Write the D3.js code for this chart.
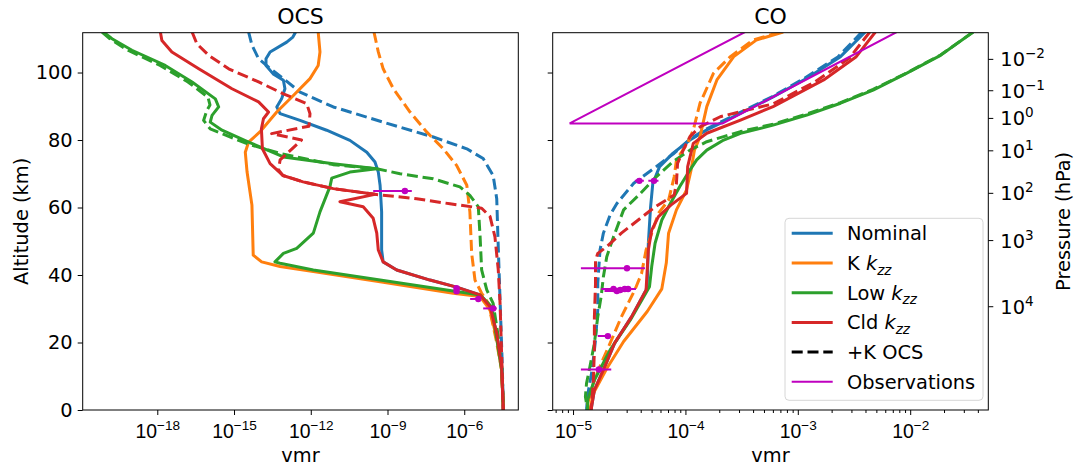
<!DOCTYPE html>
<html><head><meta charset="utf-8">
<script src="https://cdn.jsdelivr.net/npm/d3@7"></script>
<style>body{margin:0;background:#fff;} svg{display:block;font-family:"DejaVu Sans",sans-serif;}</style>
</head><body><svg id="c" width="1079" height="468"></svg>
<script>
// ---------- DATA: each profile is [altitude km, log10(vmr)] ----------
const ocsNominal = [[112,-12.59],[110.5,-12.70],[109.0,-12.94],[106.1,-13.59],[104.1,-13.75],[102.1,-13.75],[99.6,-13.47],[97.7,-13.07],[95.2,-13.01],[92.2,-13.14],[89.8,-13.33],[87.8,-13.20],[85.8,-12.42],[82.9,-11.38],[79.9,-10.47],[76.4,-9.81],[73.5,-9.49],[70.5,-9.36],[66.6,-9.29],[58.7,-9.23],[47.4,-9.23],[43.9,-9.17],[41.5,-8.64],[38.5,-7.34],[36.4,-6.30],[34.1,-5.38],[30.6,-4.99],[22.7,-4.73],[12.8,-4.54],[0,-4.47]];
const ocsNominalK = [[112,-14.43],[108.1,-14.30],[104.1,-14.04],[101.6,-13.65],[98.2,-13.07],[94.2,-12.42],[89.8,-11.12],[85.3,-9.17],[80.9,-7.21],[77.4,-5.90],[74.5,-5.26],[69.5,-4.87],[62.6,-4.73],[50.4,-4.68],[32.6,-4.60],[14.8,-4.52],[0,-4.47]];
const ocsK = [[112,-11.71],[106.1,-11.64],[102.1,-11.71],[98.2,-12.03],[93.2,-12.68],[88.3,-13.33],[82.4,-13.99],[79.4,-14.43],[76.4,-14.56],[70.5,-14.49],[60.7,-14.30],[45.9,-14.25],[43.9,-13.92],[42.5,-13.20],[41.0,-11.90],[38.0,-9.29],[34.6,-6.43],[33.6,-5.38],[29.6,-4.99],[20.7,-4.72],[11.9,-4.54],[0,-4.47]];
const ocsKK = [[112,-9.53],[106.1,-9.36],[101.1,-9.17],[95.2,-8.77],[88.3,-8.12],[82.4,-7.47],[77.4,-6.82],[72.5,-6.30],[66.6,-5.90],[58.7,-5.78],[46.4,-5.71],[38.5,-5.58],[34.6,-5.32],[31.6,-5.06],[20.7,-4.75],[11.9,-4.54],[0,-4.47]];
const ocsLow = [[112,-20.10],[110.0,-19.77],[106.6,-18.99],[102.1,-17.69],[97.2,-16.64],[92.2,-15.73],[89.8,-15.60],[87.3,-15.86],[85.3,-15.93],[82.9,-15.47],[79.4,-14.43],[75.0,-13.07],[73.0,-11.12],[71.5,-9.42],[70.5,-10.47],[68.7,-11.18],[66.2,-11.25],[58.7,-11.64],[52.4,-11.90],[47.9,-12.55],[46.4,-13.07],[43.9,-13.40],[43.5,-13.20],[41.5,-11.90],[38.5,-9.29],[35.1,-6.30],[34.1,-5.38],[30.6,-4.93],[20.7,-4.72],[11.9,-4.54],[0,-4.47]];
const ocsLowK = [[112,-20.16],[110.0,-19.85],[106.6,-19.15],[102.1,-17.89],[97.2,-16.80],[92.7,-16.02],[90.4,-15.94],[88.8,-16.06],[85.8,-16.19],[83.3,-15.93],[78.9,-14.49],[75.9,-13.13],[72.7,-11.13],[71.5,-9.42],[70.0,-8.51],[68.5,-7.21],[66.1,-6.17],[63.6,-5.78],[60.2,-5.45],[51.3,-5.38],[41.5,-5.32],[35.6,-5.12],[31.6,-4.87],[21.7,-4.67],[11.9,-4.52],[0,-4.47]];
const ocsCld = [[112,-17.88],[109.5,-17.82],[106.1,-17.43],[101.1,-16.38],[95.2,-15.08],[91.3,-14.04],[88.3,-13.65],[86.3,-13.85],[83.3,-13.93],[77.4,-13.89],[73.0,-13.59],[69.5,-13.09],[67.6,-12.30],[65.6,-11.12],[63.9,-9.49],[61.7,-10.86],[60.2,-9.95],[56.8,-9.56],[52.4,-9.42],[47.4,-9.36],[43.9,-9.17],[41.5,-8.64],[38.5,-7.34],[36.4,-6.30],[34.1,-5.38],[30.6,-4.99],[22.7,-4.73],[12.8,-4.54],[0,-4.47]];
const ocsCldK = [[112,-16.64],[108.5,-16.45],[105.1,-15.99],[101.1,-15.21],[97.2,-14.04],[93.7,-13.07],[90.8,-12.16],[87.8,-12.03],[84.1,-12.07],[81.9,-13.53],[80.0,-12.36],[74.1,-13.20],[71.1,-13.26],[69.5,-13.09],[67.6,-12.30],[65.6,-11.12],[63.9,-9.49],[62.6,-7.86],[61.1,-6.56],[59.8,-5.32],[57.3,-4.99],[51.3,-4.80],[41.5,-4.67],[31.6,-4.60],[21.7,-4.56],[11.9,-4.52],[0,-4.48]];

const coNominal = [[112,-2.40],[104.7,-2.62],[98.3,-2.92],[92.8,-3.22],[87.9,-3.51],[83.0,-3.81],[80.0,-3.96],[76.1,-4.11],[72.1,-4.23],[67.2,-4.29],[60.2,-4.31],[49.4,-4.33],[37.0,-4.34],[35.6,-4.35],[27.6,-4.48],[19.8,-4.63],[11.9,-4.73],[5.9,-4.81],[0,-4.84]];
const coNominalK = [[112,-2.43],[104.7,-2.64],[98.3,-2.94],[92.8,-3.23],[87.9,-3.53],[83.0,-3.83],[80.0,-3.97],[76.1,-4.10],[72.1,-4.26],[67.2,-4.46],[61.2,-4.61],[57.8,-4.67],[52.4,-4.73],[47.4,-4.76],[37.5,-4.78],[29.6,-4.78],[20.7,-4.80],[11.9,-4.83],[4.4,-4.87],[0,-4.88]];
const coK = [[112,-3.13],[109.6,-3.37],[104.7,-3.57],[97.8,-3.72],[89.9,-3.81],[81.0,-3.87],[77.0,-3.92],[71.1,-3.95],[65.2,-3.99],[59.3,-4.08],[52.4,-4.15],[43.6,-4.17],[35.9,-4.21],[29.2,-4.34],[20.3,-4.55],[12.3,-4.70],[4.9,-4.82],[0,-4.85]];
const coKK = [[112,-3.16],[109.6,-3.40],[104.7,-3.60],[99.8,-3.75],[90.9,-3.87],[83.0,-3.93],[79.1,-3.98],[74.1,-4.08],[69.1,-4.10],[62.2,-4.15],[58.3,-4.24],[52.4,-4.30],[47.4,-4.35],[40.5,-4.39],[35.6,-4.45],[27.6,-4.57],[19.8,-4.67],[13.8,-4.75],[7.9,-4.82],[2.0,-4.87],[0,-4.88]];
const coLow = [[112,-1.44],[105.1,-1.73],[99.8,-2.03],[94.8,-2.33],[90.9,-2.62],[87.4,-2.92],[84.4,-3.22],[82.0,-3.51],[80.0,-3.66],[77.0,-3.81],[74.1,-3.90],[71.1,-3.96],[66.2,-4.05],[60.2,-4.15],[56.3,-4.21],[49.4,-4.27],[42.5,-4.30],[36.5,-4.32],[26.7,-4.49],[17.8,-4.67],[8.9,-4.81],[3.0,-4.87],[0,-4.87]];
const coLowK = [[112,-1.44],[105.2,-1.73],[99.9,-2.03],[95.0,-2.33],[91.1,-2.62],[87.7,-2.92],[84.7,-3.22],[82.5,-3.51],[81.0,-3.66],[79.5,-3.81],[77.0,-3.96],[73.6,-4.11],[69.1,-4.26],[64.2,-4.40],[59.3,-4.55],[51.3,-4.64],[45.4,-4.70],[39.5,-4.73],[33.6,-4.75],[27.6,-4.78],[19.8,-4.81],[12.8,-4.85],[7.9,-4.88],[3.9,-4.89],[0,-4.87]];
const coCld = [[112,-2.31],[104.7,-2.48],[97.8,-2.77],[89.9,-3.22],[85.9,-3.51],[82.0,-3.81],[79.0,-3.93],[72.1,-3.98],[64.2,-3.99],[60.7,-4.13],[57.3,-4.24],[53.3,-4.30],[47.4,-4.33],[35.6,-4.35],[27.6,-4.48],[19.8,-4.63],[11.9,-4.73],[5.9,-4.81],[0,-4.84]];
const coCldK = [[112,-2.36],[104.3,-2.54],[97.2,-2.85],[90.7,-3.22],[88.4,-3.51],[86.9,-3.69],[83.9,-3.87],[81.0,-3.96],[77.0,-4.02],[73.1,-4.07],[67.2,-4.08],[63.7,-4.10],[60.2,-4.27],[56.3,-4.42],[52.4,-4.57],[48.4,-4.70],[46.4,-4.78],[44.4,-4.80],[37.5,-4.80],[27.6,-4.81],[17.8,-4.81],[7.9,-4.82],[0,-4.84]];

// observations: altitude, log10(vmr), error bar low/high (log10)
const obsOCSAlt = [64.9, 36.1, 35.2, 32.9, 30.1];
const obsOCSLog = [-8.32, -6.30, -6.30, -5.45, -4.87];
const obsOCSLo  = [-9.56, -6.30, -6.30, -5.77, -5.26];
const obsOCSHi  = [-8.05, -6.30, -6.30, -5.38, -4.73];
const obsCOAlt = [67.9, 67.9, 42.0, 35.85, 35.26, 35.56, 35.85, 35.85, 21.9, 12.0];
const obsCOLog = [-4.41, -4.28, -4.52, -4.64, -4.61, -4.58, -4.54, -4.51, -4.69, -4.77];
const obsCOLo  = [-4.45, -4.33, -4.93, -4.75, -4.72, -4.66, -4.60, -4.55, -4.78, -4.93];
const obsCOHi  = [-4.37, -4.24, -4.36, -4.44, -4.50, -4.52, -4.49, -4.47, -4.67, -4.66];
// upper-atmosphere CO observation envelope
const obsCORangeAlt = [112, 84.9, 84.9, 112];
const obsCORangeLog = [-3.47, -5.03, -3.67, -2.12];

// axis ticks
const altTicks = [0, 20, 40, 60, 80, 100];
const ocsTickExp = [-18, -15, -12, -9, -6];
const coTickExp = [-5, -4, -3, -2];
const pressureTickExp = [-2, -1, 0, 1, 2, 3, 4];
const pressureTickAlt = [103.9, 94.6, 86.4, 76.8, 64.2, 50.2, 30.6]; // altitude of each pressure level (km)

const seriesColors = ["#1f77b4", "#ff7f0e", "#2ca02c", "#d62728"];
const obsColor = "#bf00bf";

// ---------- DRAWING ----------
const svg = d3.select("#c");
const FS = 19.4;
const yTop = 32.7, yBot = 410;
const y = d3.scaleLinear().domain([0, 111.8]).range([yBot, yTop]);
const xOCS = d3.scaleLog().domain([Math.pow(10, -20.916), Math.pow(10, -3.887)]).range([82.7, 518.3]);
const xCO = d3.scaleLog().domain([Math.pow(10, -5.181), Math.pow(10, -1.305)]).range([552.7, 988.3]);

const defs = svg.append("defs");
function clip(id, x) {
  defs.append("clipPath").attr("id", id).append("rect")
    .attr("x", x.range()[0]).attr("y", yTop).attr("width", x.range()[1] - x.range()[0]).attr("height", yBot - yTop);
}
clip("cl1", xOCS); clip("cl2", xCO);

function supLabel(sel, exp) {
  sel.text(null);
  sel.append("tspan").text("10");
  sel.append("tspan").attr("font-size", FS * 0.7).attr("dy", -8).text((exp < 0 ? "\u2212" : "") + Math.abs(exp));
}

function drawPanel(x, clipId, sets, obs, title) {
  const g = svg.append("g");
  const plot = g.append("g").attr("clip-path", `url(#${clipId})`);
  const line = d3.line().x(d => x(Math.pow(10, d[1]))).y(d => y(d[0]));
  sets.forEach((s) => {
    plot.append("path").datum(s.data).attr("d", line).attr("fill", "none")
      .attr("stroke", seriesColors[s.c]).attr("stroke-width", 3)
      .attr("stroke-linejoin", "round")
      .attr("stroke-dasharray", s.dash ? "11,4.8" : null);
  });
  if (obs.range) {
    const pts = obs.range.alt.map((a, i) => [a, obs.range.log[i]]);
    plot.append("path").datum(pts).attr("d", line).attr("fill", "none")
      .attr("stroke", obsColor).attr("stroke-width", 2);
  }
  obs.alt.forEach((a, i) => {
    plot.append("line").attr("x1", x(Math.pow(10, obs.lo[i]))).attr("x2", x(Math.pow(10, obs.hi[i])))
      .attr("y1", y(a)).attr("y2", y(a)).attr("stroke", obsColor).attr("stroke-width", 2);
    plot.append("circle").attr("cx", x(Math.pow(10, obs.log[i]))).attr("cy", y(a)).attr("r", 3.2).attr("fill", obsColor);
  });
  const [x0, x1] = x.range();
  g.append("rect").attr("x", x0).attr("y", yTop).attr("width", x1 - x0).attr("height", yBot - yTop)
    .attr("fill", "none").attr("stroke", "#000").attr("stroke-width", 1);
  const ya = d3.axisLeft(y).tickValues(altTicks).tickSize(5).tickPadding(5);
  const yg = g.append("g").attr("transform", `translate(${x0},0)`).call(ya);
  yg.select(".domain").remove();
  yg.selectAll("text").attr("font-size", FS).attr("font-family", "DejaVu Sans").attr("fill", "#000");
  if (x !== xOCS) yg.selectAll("text").remove();
  const exps = x === xOCS ? ocsTickExp : coTickExp;
  const xa = d3.axisBottom(x).tickValues(exps.map(e => Math.pow(10, e))).tickSize(5).tickFormat(() => "");
  const xg = g.append("g").attr("transform", `translate(0,${yBot})`).call(xa);
  xg.select(".domain").remove();
  xg.selectAll(".tick text").remove();
  xg.selectAll(".tick").each(function (d) {
    const t = d3.select(this).append("text").attr("y", 27.5).attr("text-anchor", "middle")
      .attr("font-size", FS).attr("fill", "#000").attr("x", 0);
    supLabel(t, Math.round(Math.log10(d)));
  });
  if (x === xCO) {
    const minors = [];
    for (let e = -6; e <= -2; e++) for (let m = 2; m <= 9; m++) {
      const v = m * Math.pow(10, e);
      if (v >= x.domain()[0] && v <= x.domain()[1]) minors.push(v);
    }
    const mg = g.append("g").attr("transform", `translate(0,${yBot})`)
      .call(d3.axisBottom(x).tickValues(minors).tickSize(3).tickFormat(() => ""));
    mg.select(".domain").remove();
  }
  g.selectAll(".tick line").attr("stroke", "#000");
  g.append("text").attr("x", (x0 + x1) / 2).attr("y", 24).attr("text-anchor", "middle")
    .attr("font-size", 22).text(title);
  g.append("text").attr("x", (x0 + x1) / 2).attr("y", 462).attr("text-anchor", "middle")
    .attr("font-size", FS).text("vmr");
  return g;
}

drawPanel(xOCS, "cl1", [
  {data: ocsNominal, c: 0}, {data: ocsNominalK, c: 0, dash: true},
  {data: ocsK, c: 1}, {data: ocsKK, c: 1, dash: true},
  {data: ocsLow, c: 2}, {data: ocsLowK, c: 2, dash: true},
  {data: ocsCld, c: 3}, {data: ocsCldK, c: 3, dash: true}
], {alt: obsOCSAlt, log: obsOCSLog, lo: obsOCSLo, hi: obsOCSHi}, "OCS");

drawPanel(xCO, "cl2", [
  {data: coNominal, c: 0}, {data: coNominalK, c: 0, dash: true},
  {data: coK, c: 1}, {data: coKK, c: 1, dash: true},
  {data: coLow, c: 2}, {data: coLowK, c: 2, dash: true},
  {data: coCld, c: 3}, {data: coCldK, c: 3, dash: true}
], {alt: obsCOAlt, log: obsCOLog, lo: obsCOLo, hi: obsCOHi, range: {alt: obsCORangeAlt, log: obsCORangeLog}}, "CO");

const xr = xCO.range()[1];
pressureTickExp.forEach((e, i) => {
  const yy = y(pressureTickAlt[i]);
  svg.append("line").attr("x1", xr).attr("x2", xr + 5).attr("y1", yy).attr("y2", yy).attr("stroke", "#000");
  const t = svg.append("text").attr("x", xr + 12).attr("y", yy + 7).attr("font-size", FS).attr("fill", "#000");
  supLabel(t, e);
});

svg.append("text").attr("transform", `translate(28,${(yTop + yBot) / 2}) rotate(-90)`)
  .attr("text-anchor", "middle").attr("font-size", FS).text("Altitude (km)");
svg.append("text").attr("transform", `translate(1070,${(yTop + yBot) / 2}) rotate(-90)`)
  .attr("text-anchor", "middle").attr("font-size", FS).text("Pressure (hPa)");

const lg = svg.append("g");
lg.append("rect").attr("x", 785).attr("y", 218.3).attr("width", 198).attr("height", 182).attr("rx", 4)
  .attr("fill", "#fff").attr("fill-opacity", 0.8).attr("stroke", "#d6d6d6").attr("stroke-width", 1);
const legendItems = [
  {label: ["Nominal"], color: seriesColors[0], w: 3},
  {label: ["K ", "k"], color: seriesColors[1], w: 3},
  {label: ["Low ", "k"], color: seriesColors[2], w: 3},
  {label: ["Cld ", "k"], color: seriesColors[3], w: 3},
  {label: ["+K OCS"], color: "#000", w: 3, dash: true},
  {label: ["Observations"], color: obsColor, w: 2}
];
legendItems.forEach((it, i) => {
  const yy = 233.3 + i * 29.7;
  lg.append("line").attr("x1", 791.7).attr("x2", 832.7).attr("y1", yy).attr("y2", yy)
    .attr("stroke", it.color).attr("stroke-width", it.w).attr("stroke-dasharray", it.dash ? "11,4.8" : null);
  const t = lg.append("text").attr("x", 847).attr("y", yy + 7).attr("font-size", FS).attr("fill", "#000");
  t.append("tspan").text(it.label[0]);
  if (it.label.length > 1) {
    t.append("tspan").attr("font-style", "italic").text("k");
    t.append("tspan").attr("font-style", "italic").attr("font-size", FS * 0.7).attr("dy", 4.5).text("zz");
  }
});
</script></body></html>
